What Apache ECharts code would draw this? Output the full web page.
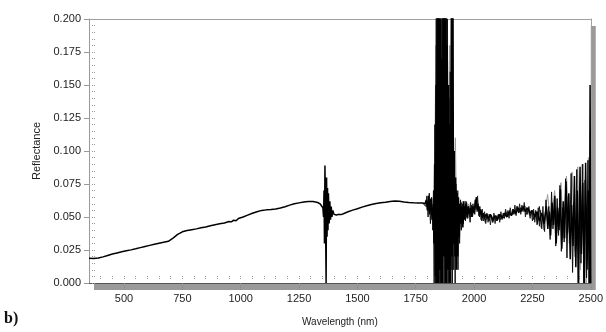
<!DOCTYPE html>
<html><head><meta charset="utf-8">
<script src="https://cdn.jsdelivr.net/npm/echarts@6/dist/echarts.min.js"></script>
<style>html,body{margin:0;padding:0;background:#fff}#c{width:606px;height:332px}</style>
</head><body><div id="c"></div>
<script>
// ---- data ----
const xTicks = [500, 750, 1000, 1250, 1500, 1750, 2000, 2250, 2500];
const yTicks = [0, 0.025, 0.05, 0.075, 0.1, 0.125, 0.15, 0.175, 0.2];

// spectrum A: full range
const wlA = [350,370,390,410,430,450,470,490,510,530,550,570,590,610,630,650,670,690,710,730,750,770,790,810,830,850,870,890,910,930,950,960,970,980,990,1010,1030,1050,1070,1090,1110,1130,1150,1170,1190,1210,1230,1250,1270,1290,1310,1330,1340,1348,1352,
1355,1357,1359,1361,1363,1366,1368,1370,1372,1374,1376,1379,1382,1385,1388,1391,1395,1400,1410,1420,1430,1440,
1460,1480,1500,1520,1540,1560,1580,1600,1620,1640,1660,1680,1700,1720,1740,1760,1780,1790,
1795,1800,1805,1810,1815,1820,1825,1828,1831,1834,1837,1840,1843,1846,1849,1852,1855,1858,1861,1864,1867,1870,1873,1876,1879,1882,1885,1888,1891,1894,1897,1900,1903,1906,1909,1912,1915,1918,1921,1924,1927,1930,1933,1936,1940,1944,1948,1952,1956,1960,1965,1970,1975,1980,1985,1990,1995,2000,2005,2010,2015,2020,2025,2030,2035,2040,2045,2050,2060,2070,2080,2090,2100,2110,2120,2130,2140,2150,2160,2170,2180,2190,2200,2210,2220,2230,2240,2250,2260,2270,2280,2290,2300,2310,2316,2322,2328,2334,2340,2346,2352,2358,2364,2370,2376,2382,2388,2394,2400,2406,2412,2418,2424,2430,2436,2442,2448,2454,2460,2466,2472,2478,2484,2490,2494,2497,2500];
const refA = [0.0188,0.0186,0.0190,0.0198,0.0209,0.0219,0.0228,0.0236,0.0244,0.0251,0.0259,0.0268,0.0277,0.0285,0.0293,0.0301,0.0309,0.0316,0.0340,0.0368,0.0388,0.0398,0.0404,0.0410,0.0418,0.0425,0.0433,0.0441,0.0449,0.0455,0.0466,0.0463,0.0476,0.0472,0.0488,0.0500,0.0514,0.0528,0.0540,0.0550,0.0554,0.0557,0.0561,0.0568,0.0578,0.0590,0.0600,0.0607,0.0613,0.0617,0.0618,0.0610,0.0600,0.0585,0.0570,
0.050,0.070,0.030,0.089,0.060,0.000,0.080,0.035,0.072,0.040,0.068,0.045,0.062,0.048,0.058,0.050,0.055,0.052,0.0515,0.0520,0.0518,0.0525,
0.0540,0.0552,0.0562,0.0575,0.0585,0.0595,0.0603,0.0608,0.0612,0.0618,0.0622,0.0620,0.0614,0.0610,0.0608,0.0607,0.0606,0.0600,
0.063,0.055,0.066,0.052,0.064,0.048,0.060,0.030,0.090,0.005,0.150,0.000,0.250,0.000,0.250,0.010,0.200,0.000,0.170,0.000,0.250,0.020,0.250,0.000,0.220,0.000,0.180,0.010,0.150,0.000,0.120,0.000,0.250,0.020,0.250,0.030,0.100,0.020,0.080,0.010,0.070,0.020,0.065,0.035,0.060,0.045,0.058,0.042,0.062,0.048,0.060,0.050,0.058,0.052,0.057,0.050,0.058,0.053,0.060,0.065,0.055,0.058,0.052,0.055,0.050,0.053,0.049,0.052,0.049,0.052,0.048,0.051,0.048,0.052,0.049,0.053,0.050,0.054,0.051,0.055,0.053,0.057,0.054,0.058,0.054,0.057,0.053,0.055,0.050,0.054,0.047,0.053,
0.045,0.058,0.041,0.054,0.036,0.061,0.044,0.066,0.030,0.057,0.040,0.071,0.026,0.062,0.034,0.077,0.038,0.068,0.018,0.059,0.028,0.081,0.012,0.070,0.000,0.088,0.022,0.076,0.000,0.091,0.010,0.070,0.000,0.150,0.000];

// spectrum B: noisy part only
const wlB = [1780,1793,1798,1803,1808,1813,1818,1823,1826,1829,1832,1835,1838,1841,1844,1847,1850,1853,1856,1859,1862,1865,1868,1871,1874,1877,1880,1883,1886,1889,1892,1895,1898,1901,1904,1907,1910,1913,1916,1919,1922,1925,1928,1931,1934,1938,1942,1946,1950,1954,1958,1963,1968,1973,1978,1983,1988,1993,1998,2003,2008,2013,2018,2023,2028,2033,2040,2048,2056,2064,2072,2080,2088,2096,2104,2112,2120,2128,2136,2144,2152,2160,2168,2176,2184,2192,2200,2208,2216,2224,2232,2240,2248,2256,2264,2272,2280,2288,2295,2302,2308,2314,2320,2326,2332,2338,2344,2350,2356,2362,2368,2374,2380,2386,2392,2398,2404,2410,2416,2422,2428,2434,2440,2446,2452,2458,2464,2470,2476,2482,2488,2493,2496,2499];
const refB = [0.0606,0.058,0.066,0.050,0.068,0.045,0.065,0.040,0.070,0.000,0.120,0.000,0.250,0.000,0.250,0.000,0.250,0.000,0.250,0.000,0.250,0.000,0.250,0.000,0.250,0.010,0.250,0.000,0.200,0.000,0.140,0.000,0.160,0.010,0.250,0.000,0.130,0.010,0.090,0.000,0.075,0.020,0.068,0.010,0.060,0.030,0.063,0.040,0.060,0.045,0.058,0.047,0.061,0.049,0.056,0.046,0.059,0.050,0.056,0.052,0.062,0.054,0.060,0.050,0.056,0.047,0.053,0.046,0.052,0.047,0.051,0.046,0.050,0.047,0.052,0.048,0.051,0.049,0.054,0.050,0.055,0.051,0.056,0.052,0.058,0.053,0.057,0.055,0.059,0.052,0.056,0.051,0.054,0.048,0.055,0.045,0.058,0.042,
0.052,0.039,0.063,0.047,0.058,0.033,0.069,0.041,0.060,0.028,0.064,0.036,0.074,0.024,0.057,0.031,0.079,0.019,0.066,0.035,0.083,0.008,0.061,0.024,0.086,0.000,0.072,0.015,0.090,0.000,0.078,0.004,0.093,0.000,0.081,0.000,0.120,0.000];

// spectrum C: noisy part only (lighter trace)
const wlC = [1800,1810,1820,1830,1836,1842,1848,1854,1860,1866,1872,1878,1884,1890,1896,1902,1908,1914,1920,1926,1932,1940,1950,1960,1975,1990,2005,2020,2040,2060,2080,2100,2120,2140,2160,2180,2200,2220,2240,2260,2280,2300,2315,2330,2345,2360,2372,2384,2396,2408,2420,2432,2444,2456,2468,2480,2490,2498];
const refC = [0.062,0.058,0.064,0.050,0.180,0.020,0.250,0.010,0.250,0.030,0.220,0.020,0.250,0.030,0.180,0.020,0.250,0.040,0.110,0.030,0.070,0.040,0.062,0.050,0.060,0.052,0.063,0.055,0.050,0.052,0.049,0.051,0.050,0.053,0.052,0.056,0.055,0.058,0.054,0.052,0.050,0.048,0.067,0.042,0.070,0.038,0.076,0.034,0.081,0.030,0.084,0.020,0.088,0.010,0.090,0.000,0.095,0.000];

// spectrum D: thickening trace of the 1940–2300 band
const wlD = [1940,1945,1950,1955,1960,1965,1970,1975,1980,1985,1990,1995,2000,2005,2010,2015,2020,2025,2030,2035,2040,2045,2050,2055,2060,2065,2070,2075,2080,2085,2090,2095,2100,2105,2110,2115,2120,2125,2130,2135,2140,2145,2150,2155,2160,2165,2170,2175,2180,2185,2190,2195,2200,2205,2210,2215,2220,2225,2230,2235,2240,2245,2250,2255,2260,2265,2270,2275,2280,2285,2290,2295,2300];
const refD = [0.050,0.061,0.047,0.059,0.052,0.062,0.049,0.058,0.053,0.061,0.051,0.060,0.054,0.063,0.056,0.066,0.051,0.058,0.048,0.056,0.047,0.054,0.045,0.053,0.046,0.052,0.044,0.051,0.046,0.053,0.045,0.051,0.047,0.052,0.046,0.054,0.048,0.053,0.049,0.056,0.050,0.055,0.049,0.057,0.051,0.056,0.052,0.059,0.051,0.058,0.053,0.060,0.052,0.059,0.054,0.061,0.050,0.057,0.052,0.058,0.049,0.055,0.047,0.056,0.046,0.054,0.044,0.057,0.043,0.055,0.041,0.058,0.040];

const zip = (xs, ys) => xs.map((x, i) => [x, ys[i]]);

const font = 'Liberation Sans, Arial, sans-serif';
const frame = { show: true, onZero: false, lineStyle: { color: '#a0a0a0', width: 1 } };
const chart = echarts.init(document.getElementById('c'));
chart.setOption({
  animation: false,
  backgroundColor: '#fff',
  grid: {
    left: 89, right: 13, top: 19, bottom: 49,
    show: true, backgroundColor: '#fff', borderWidth: 0,
    shadowColor: '#9a9a9a', shadowOffsetX: 5, shadowOffsetY: 7, shadowBlur: 0
  },
  xAxis: [{
    type: 'value', min: 350, max: 2500,
    name: 'Wavelength (nm)', nameLocation: 'middle', nameGap: 34,
    nameTextStyle: { fontFamily: font, fontSize: 10, color: '#222' },
    axisLine: { show: true, onZero: false, lineStyle: { color: '#555', width: 1 } },
    axisTick: { show: true, customValues: xTicks, length: 7, lineStyle: { color: '#888', type: 'dotted' } },
    axisLabel: { customValues: xTicks, fontFamily: font, fontSize: 11, color: '#222', margin: 10, formatter: v => String(v) },
    splitLine: { show: false }
  }, {
    type: 'value', min: 350, max: 2500, interval: 50, position: 'bottom', offset: -4,
    axisLine: { show: false },
    axisTick: { show: true, inside: true, length: 4, lineStyle: { color: '#999', type: 'dotted' } },
    axisLabel: { show: false }, splitLine: { show: false }
  }, {
    type: 'value', min: 350, max: 2500, position: 'top',
    axisLine: frame, axisTick: { show: false }, axisLabel: { show: false }, splitLine: { show: false }
  }],
  yAxis: [{
    type: 'value', min: 0, max: 0.2, interval: 0.025,
    name: 'Reflectance', nameLocation: 'middle', nameGap: 46,
    nameTextStyle: { fontFamily: font, fontSize: 11, color: '#222' },
    axisLine: { show: true, onZero: false, lineStyle: { color: '#999' } },
    axisTick: { show: true, length: 5, lineStyle: { color: '#999' } },
    axisLabel: { fontFamily: font, fontSize: 11, color: '#222', margin: 8, formatter: v => v.toFixed(3) },
    splitLine: { show: false }
  }, {
    type: 'value', min: 0, max: 0.2, interval: 0.005, position: 'left', offset: -3,
    axisLine: { show: false },
    axisTick: { show: true, inside: true, length: 3, lineStyle: { color: '#999', type: 'dotted' } },
    axisLabel: { show: false }, splitLine: { show: false }
  }, {
    type: 'value', min: 0, max: 0.2, position: 'right',
    axisLine: frame, axisTick: { show: false }, axisLabel: { show: false }, splitLine: { show: false }
  }],
  series: [
    { type: 'line', data: zip(wlC, refC), showSymbol: false, clip: true, lineStyle: { color: '#9a9a9a', width: 1 } },
    { type: 'line', data: zip(wlD, refD), showSymbol: false, clip: true, lineStyle: { color: '#222', width: 1 } },
    { type: 'line', data: zip(wlB, refB), showSymbol: false, clip: true, lineStyle: { color: '#111', width: 1 } },
    { type: 'line', data: zip(wlA, refA), showSymbol: false, clip: true, lineStyle: { color: '#000', width: 1.5 } }
  ],
  graphic: [{
    type: 'text', left: 4, top: 311,
    style: { text: 'b)', font: 'bold 16px "Liberation Serif", serif', fill: '#111' }
  }]
});
</script></body></html>
